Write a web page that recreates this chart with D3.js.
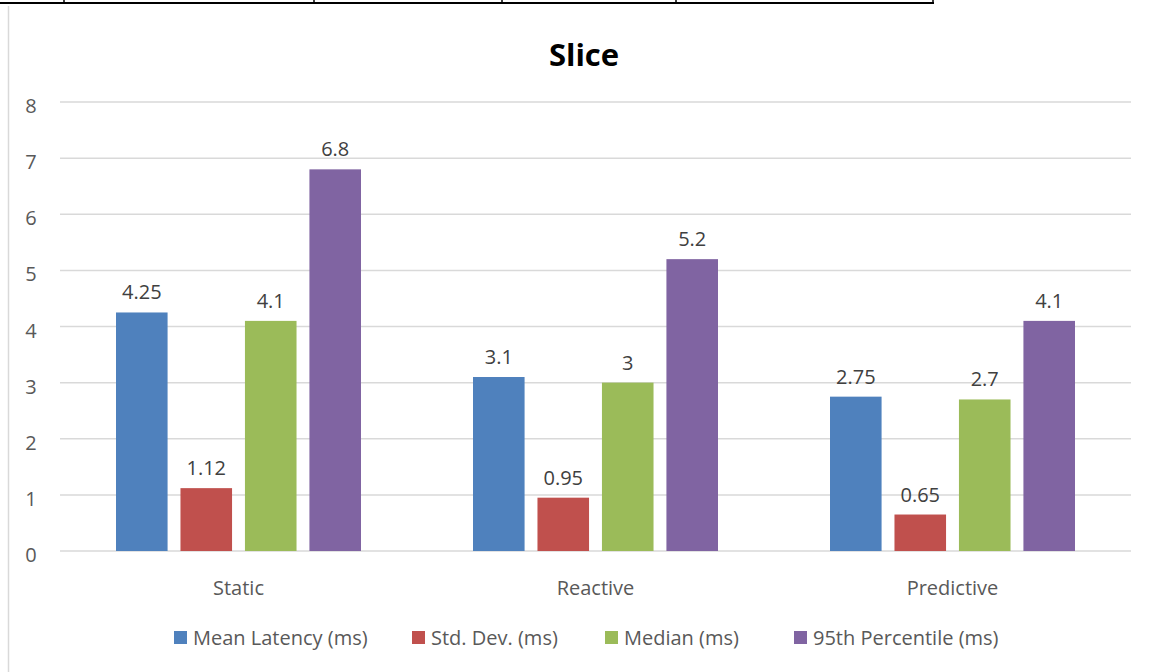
<!DOCTYPE html>
<html lang="en">
<head>
<meta charset="UTF-8">
<title>Slice</title>
<script src="https://d3js.org/d3.v7.min.js"></script>
<style>
    body { margin: 0; background: #fff; }
    svg { display: block; font-family: "Open Sans", "Liberation Sans", sans-serif; }
</style>
</head>
<body>
<svg width="1150" height="672"></svg>
<script>
    // chart data
    let categories = ["Static", "Reactive", "Predictive"]
    let seriesNames = ["Mean Latency (ms)", "Std. Dev. (ms)", "Median (ms)", "95th Percentile (ms)"]
    let meanLatency = [4.25, 3.1, 2.75]
    let stdDev = [1.12, 0.95, 0.65]
    let median = [4.1, 3, 2.7]
    let p95 = [6.8, 5.2, 4.1]
    let yTicks = [0, 1, 2, 3, 4, 5, 6, 7, 8]
    let colors = ["#4f81bd", "#c0504d", "#9bbb59", "#8064a2"]

    let seriesValues = [meanLatency, stdDev, median, p95]

    let svg = d3.select("svg")
    let margins = {left: 60, right: 19, top: 102, bottom: 121}

    // leftover table lines at top of the page
    let tableCols = [64, 314, 502, 676, 933]
    svg.append("line").attr("x1", 0).attr("x2", 934).attr("y1", 3).attr("y2", 3)
        .attr("stroke", "#000").attr("stroke-width", 2)
    svg.selectAll(".tcol").data(tableCols).enter().append("line")
        .attr("x1", d => d).attr("x2", d => d).attr("y1", 0).attr("y2", 3)
        .attr("stroke", "#000").attr("stroke-width", 1.5)
    // chart area border on the left
    svg.append("line").attr("x1", 8.5).attr("x2", 8.5).attr("y1", 6).attr("y2", 672)
        .attr("stroke", "#d9d9d9").attr("stroke-width", 1.5)

    let yScale = d3.scaleLinear().domain([0, 8]).range([672 - margins.bottom, margins.top])
    let xScale = d3.scaleBand().domain(categories).range([margins.left, 1150 - margins.right])
    let inner = d3.scaleBand().domain(d3.range(seriesNames.length))
        .range([56, xScale.bandwidth() - 56]).paddingInner(0.2)

    // gridlines
    svg.append("g").selectAll("line").data(yTicks).enter().append("line")
        .attr("x1", margins.left).attr("x2", 1150 - margins.right)
        .attr("y1", d => yScale(d)).attr("y2", d => yScale(d))
        .attr("stroke", "#d9d9d9").attr("stroke-width", 1.5)

    // y axis labels
    svg.append("g").selectAll("text").data(yTicks).enter().append("text")
        .attr("x", 31).attr("y", d => yScale(d) + 11)
        .attr("text-anchor", "middle").attr("font-size", 20).attr("fill", "#595959")
        .text(d => d)

    // bars
    let groups = svg.selectAll(".series").data(seriesValues).enter().append("g")
        .attr("fill", (d, i) => colors[i])
    groups.each(function (vals, si) {
        let g = d3.select(this)
        g.selectAll("rect").data(vals).enter().append("rect")
            .attr("x", (d, ci) => xScale(categories[ci]) + inner(si))
            .attr("y", d => yScale(d))
            .attr("width", inner.bandwidth())
            .attr("height", d => yScale(0) - yScale(d))
        g.selectAll("text").data(vals).enter().append("text")
            .attr("x", (d, ci) => xScale(categories[ci]) + inner(si) + inner.bandwidth() / 2)
            .attr("y", d => yScale(d) - 13)
            .attr("text-anchor", "middle").attr("font-size", 20).attr("fill", "#404040")
            .text(d => d)
    })

    // category labels
    svg.append("g").selectAll("text").data(categories).enter().append("text")
        .attr("x", d => xScale(d) + xScale.bandwidth() / 2).attr("y", 595)
        .attr("text-anchor", "middle").attr("font-size", 20).attr("fill", "#595959")
        .text(d => d)

    // title
    svg.append("text").attr("x", 584).attr("y", 66).attr("text-anchor", "middle")
        .attr("font-size", 31).attr("font-weight", "bold").attr("fill", "#000")
        .text("Slice")

    // legend
    let legendX = [174, 412, 605, 794]
    let legend = svg.append("g").selectAll("g").data(seriesNames).enter().append("g")
        .attr("transform", (d, i) => "translate(" + legendX[i] + ",631)")
    legend.append("rect").attr("width", 13).attr("height", 13).attr("fill", (d, i) => colors[i])
    legend.append("text").attr("x", 19).attr("y", 14).attr("font-size", 20).attr("fill", "#595959")
        .text(d => d)
</script>
</body>
</html>
